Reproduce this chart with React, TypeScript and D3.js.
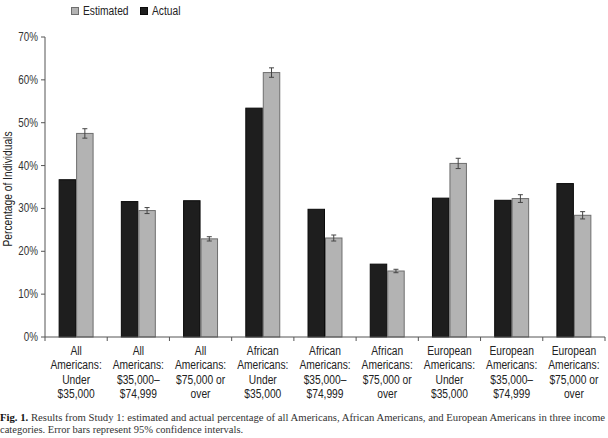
import React from "react";
import * as d3 from "d3";

const categories: string[][] = [
  ["All", "Americans:", "Under", "$35,000"],
  ["All", "Americans:", "$35,000–", "$74,999"],
  ["All", "Americans:", "$75,000 or", "over"],
  ["African", "Americans:", "Under", "$35,000"],
  ["African", "Americans:", "$35,000–", "$74,999"],
  ["African", "Americans:", "$75,000 or", "over"],
  ["European", "Americans:", "Under", "$35,000"],
  ["European", "Americans:", "$35,000–", "$74,999"],
  ["European", "Americans:", "$75,000 or", "over"],
];
const actual = [36.7, 31.6, 31.8, 53.4, 29.8, 17.0, 32.4, 31.9, 35.8];
const estimated = [47.5, 29.5, 22.9, 61.7, 23.1, 15.4, 40.5, 32.3, 28.4];
const errors = [1.1, 0.7, 0.5, 1.1, 0.7, 0.4, 1.2, 0.9, 0.85];
const yTicks = [0, 10, 20, 30, 40, 50, 60, 70];
const series = ["Actual", "Estimated"];
const legendItems = ["Estimated", "Actual"];

const W = 608;
const H = 438;
const left = 45;
const right = 605;
const top = 37;
const bottom = 337;

const sans = "'Liberation Sans', Arial, Helvetica, sans-serif";
const serif = "'Liberation Serif', 'Times New Roman', serif";
const SX = 0.82;

function NText(props: {
  x: number;
  y: number;
  anchor?: "start" | "middle" | "end";
  size?: number;
  fill?: string;
  rotate?: number;
  children: React.ReactNode;
}) {
  const { x, y, anchor = "start", size = 12.5, fill = "#222", rotate = 0 } = props;
  return (
    <text
      transform={`translate(${x},${y}) rotate(${rotate}) scale(${SX},1)`}
      textAnchor={anchor}
      fontFamily={sans}
      fontSize={size}
      fill={fill}
    >
      {props.children}
    </text>
  );
}

export default function App() {
  const x = d3.scaleBand<number>().domain(d3.range(categories.length)).range([left, right]);
  const x1 = d3.scaleBand<string>().domain(series).range([0, x.bandwidth()]).paddingOuter(0.78).paddingInner(0);
  const y = d3.scaleLinear().domain([0, 70]).range([bottom, top]);
  const fill: Record<string, string> = { Actual: "#1e1e1e", Estimated: "#b3b3b3" };
  const stroke: Record<string, string> = { Actual: "#0a0a0a", Estimated: "#6e6e6e" };

  return (
    <svg width={W} height={H} style={{ position: "absolute", left: 0, top: 0, background: "#fff" }}>
      {/* legend */}
      {legendItems.map((s, i) => {
        const lx = i === 0 ? 71 : 140;
        return (
          <g key={s}>
            <rect x={lx + 0.5} y={7.5} width={7} height={7} fill={fill[s]} stroke={stroke[s]} />
            <NText x={lx + 12} y={15}>{s}</NText>
          </g>
        );
      })}
      {/* y axis */}
      <line x1={left} x2={left} y1={top} y2={bottom} stroke="#555" />
      {yTicks.map((t) => (
        <g key={t}>
          <line x1={left - 4} x2={left} y1={y(t)} y2={y(t)} stroke="#555" />
          <NText x={38} y={y(t) + 4} anchor="end" size={12} fill="#333">
            {t}%
          </NText>
        </g>
      ))}
      <NText x={12} y={(top + bottom) / 2 + 2} anchor="middle" rotate={-90}>
        Percentage of Individuals
      </NText>
      {/* bars */}
      {categories.map((_, i) => {
        const vals: Record<string, number> = { Actual: actual[i], Estimated: estimated[i] };
        const cx = (x1("Estimated") as number) + x1.bandwidth() / 2;
        const yHi = y(estimated[i] + errors[i]);
        const yLo = y(estimated[i] - errors[i]);
        return (
          <g key={i} transform={`translate(${x(i)},0)`}>
            {series.map((s) => (
              <rect
                key={s}
                x={(x1(s) as number) + 0.5}
                y={y(vals[s])}
                width={x1.bandwidth() - 1}
                height={bottom - y(vals[s])}
                fill={fill[s]}
                stroke={stroke[s]}
              />
            ))}
            <g stroke="#444" strokeWidth={1}>
              <line x1={cx} x2={cx} y1={yHi} y2={yLo} />
              <line x1={cx - 2.5} x2={cx + 2.5} y1={yHi} y2={yHi} />
              <line x1={cx - 2.5} x2={cx + 2.5} y1={yLo} y2={yLo} />
            </g>
          </g>
        );
      })}
      {/* x axis */}
      <line x1={left} x2={right} y1={bottom} y2={bottom} stroke="#555" />
      {d3.range(categories.length + 1).map((i) => {
        const xx = i < categories.length ? (x(i) as number) : right;
        return <line key={i} x1={xx} x2={xx} y1={bottom} y2={bottom + 4} stroke="#555" />;
      })}
      {categories.map((lines, i) =>
        lines.map((l, j) => (
          <NText key={`${i}-${j}`} x={(x(i) as number) + x.bandwidth() / 2} y={354.5 + j * 14.5} anchor="middle">
            {l}
          </NText>
        ))
      )}
      {/* caption */}
      <text x={0} y={421} fontFamily={serif} fontSize={10.5} fill="#333" textLength={605} lengthAdjust="spacingAndGlyphs">
        <tspan fontWeight="bold" fill="#111">Fig. 1.</tspan>
        {"  Results from Study 1: estimated and actual percentage of all Americans, African Americans, and European Americans in three income"}
      </text>
      <text x={0} y={433} fontFamily={serif} fontSize={10.5} fill="#333">
        categories. Error bars represent 95% confidence intervals.
      </text>
    </svg>
  );
}
